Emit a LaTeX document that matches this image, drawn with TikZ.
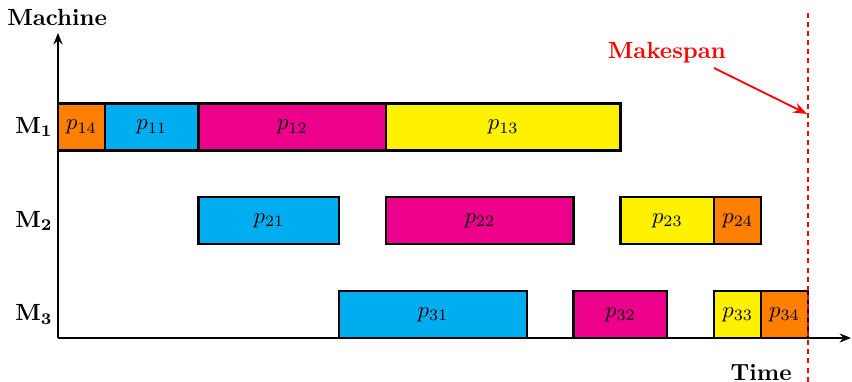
\documentclass[tikz,border=0pt]{standalone}
\usetikzlibrary{arrows.meta}
\definecolor{jorange}{RGB}{255,128,0}
\definecolor{jcyan}{RGB}{0,174,239}
\definecolor{jmagenta}{RGB}{236,0,140}
\definecolor{jyellow}{RGB}{255,242,0}
\tikzset{
  jobbox/.style={draw=black, line width=1pt, minimum height=20.625pt, inner sep=0pt, outer sep=0pt, anchor=south west},
  axisline/.style={line width=0.8pt, -{Stealth[length=5pt,width=4pt]}},
  rowlabel/.style={inner sep=0pt},
}
\newcommand\jobnode[6]{\node[jobbox, fill=#5, minimum width=#4*20.625pt] (#1) at (#2,#3) {$#6$};}
\begin{document}
\begin{tikzpicture}[x=20.625pt, y=20.625pt]
\useasboundingbox (-1.2373,-0.9387) rectangle (16.939,7.2107);
% jobs
\jobnode{j14}{0}{4}{1}{jorange}{p_{14}}
\jobnode{j11}{1}{4}{2}{jcyan}{p_{11}}
\jobnode{j12}{3}{4}{4}{jmagenta}{p_{12}}
\jobnode{j13}{7}{4}{5}{jyellow}{p_{13}}
\jobnode{j21}{3}{2}{3}{jcyan}{p_{21}}
\jobnode{j22}{7}{2}{4}{jmagenta}{p_{22}}
\jobnode{j23}{12}{2}{2}{jyellow}{p_{23}}
\jobnode{j24}{14}{2}{1}{jorange}{p_{24}}
\jobnode{j31}{6}{0}{4}{jcyan}{p_{31}}
\jobnode{j32}{11}{0}{2}{jmagenta}{p_{32}}
\jobnode{j33}{14}{0}{1}{jyellow}{p_{33}}
\jobnode{j34}{15}{0}{1}{jorange}{p_{34}}
% axes
\coordinate (o) at (0,0);
\coordinate (ytop) at (0,6.507);
\coordinate (xend) at (16.917,0);
\draw[axisline] (o) -- (ytop);
\draw[axisline] (o) -- (xend);
\node[font=\bfseries, scale=1.03] (machine) at (-0.02,6.848) {Machine};
\node[font=\bfseries, scale=1.03] (time) at (15.0,-0.74) {Time};
\node[rowlabel, scale=1.03] (m1) at (-0.512,4.5) {$\mathbf{M_1}$};
\node[rowlabel, scale=1.03] (m2) at (-0.512,2.5) {$\mathbf{M_2}$};
\node[rowlabel, scale=1.03] (m3) at (-0.512,0.5) {$\mathbf{M_3}$};
% makespan
\coordinate (mstop) at (16,6.933);
\coordinate (msbot) at (16,-0.9387);
\draw[red, line width=0.9pt, dash pattern=on 2.2pt off 1.8pt] (mstop) -- (msbot);
\node[red, font=\bfseries, scale=1.03] (makespan) at (12.99,6.08) {Makespan};
\coordinate (arS) at (13.995,5.76);
\coordinate (arE) at (15.98,4.78);
\draw[red, line width=0.8pt, -{Stealth[length=6pt,width=4.5pt]}] (arS) -- (arE);
\end{tikzpicture}
\end{document}
